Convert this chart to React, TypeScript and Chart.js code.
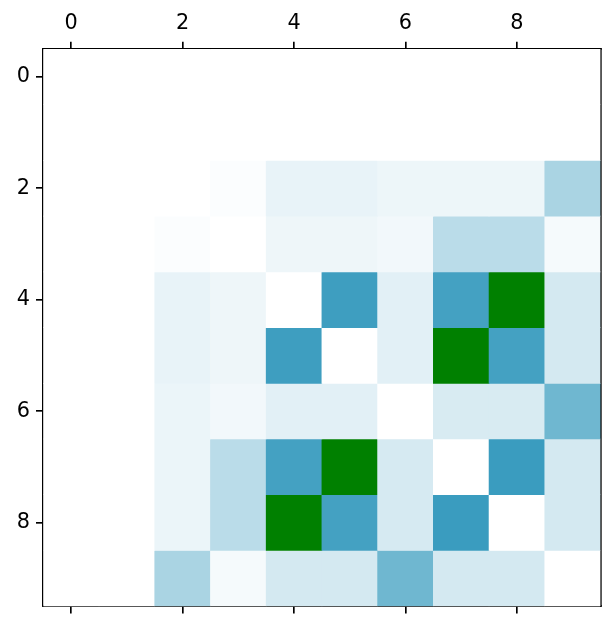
import { useEffect, useRef } from 'react';
import { Chart, registerables } from 'chart.js';

Chart.register(...registerables);

// Row / column indices of the matrix
const rowIndex = [0, 1, 2, 3, 4, 5, 6, 7, 8, 9];
const colIndex = [0, 1, 2, 3, 4, 5, 6, 7, 8, 9];

// Intensity of each cell (0 = white, larger = deeper blue)
const row0 = [0, 0, 0, 0, 0, 0, 0, 0, 0, 0];
const row1 = [0, 0, 0, 0, 0, 0, 0, 0, 0, 0];
const row2 = [0, 0, 0, 0.016, 0.09, 0.09, 0.071, 0.071, 0.071, 0.333];
const row3 = [0, 0, 0.016, 0, 0.067, 0.067, 0.051, 0.27, 0.27, 0.039];
const row4 = [0, 0, 0.09, 0.067, 0, 0.757, 0.114, 0.733, 1, 0.169];
const row5 = [0, 0, 0.09, 0.067, 0.757, 0, 0.114, 1, 0.733, 0.169];
const row6 = [0, 0, 0.078, 0.051, 0.114, 0.114, 0, 0.153, 0.153, 0.565];
const row7 = [0, 0, 0.078, 0.27, 0.733, 1, 0.161, 0, 0.773, 0.169];
const row8 = [0, 0, 0.078, 0.27, 1, 0.733, 0.161, 0.773, 0, 0.169];
const row9 = [0, 0, 0.333, 0.039, 0.169, 0.169, 0.565, 0.169, 0.169, 0];
const values = [row0, row1, row2, row3, row4, row5, row6, row7, row8, row9];

// Cells highlighted in green [row, col]
const highlightCells = [
  [4, 8],
  [5, 7],
  [7, 5],
  [8, 4],
];

// Tick labels
const xTickValues = [0, 2, 4, 6, 8];
const yTickValues = [0, 2, 4, 6, 8];

function isHighlighted(r: number, c: number) {
  return highlightCells.some(([hr, hc]) => hr === r && hc === c);
}

function cellColor(v: number, hl: boolean) {
  if (hl) return '#008000';
  const r = Math.round(255 - 255 * v);
  const g = Math.round(255 - 128 * v);
  const b = Math.round(255 - 83 * v);
  return `rgb(${r},${g},${b})`;
}

const FONT = { family: 'DejaVu Sans', size: 20.8 };
const LINE = 1.67;

export default function App() {
  const ref = useRef<HTMLCanvasElement>(null);

  useEffect(() => {
    if (!ref.current) return;
    const datasets = rowIndex.map((r) => ({
      data: colIndex.map((c) => ({ x: c, y: [r - 0.5, r + 0.5] })),
      backgroundColor: colIndex.map((c) => cellColor(values[r][c], isHighlighted(r, c))),
      borderWidth: 0,
      barPercentage: 1,
      categoryPercentage: 1,
      grouped: false,
    }));

    const tickGrid = {
      display: true,
      drawOnChartArea: false,
      drawTicks: true,
      tickLength: 7.3,
      color: '#000',
      tickColor: '#000',
      lineWidth: LINE,
      tickWidth: LINE,
      offset: false,
    };
    const border = { display: true, color: '#000', width: LINE };

    const chart = new Chart(ref.current, {
      type: 'bar',
      data: { datasets: datasets as any },
      options: {
        animation: false,
        responsive: false,
        maintainAspectRatio: false,
        devicePixelRatio: 1,
        layout: { padding: 0 },
        plugins: { legend: { display: false }, tooltip: { enabled: false } },
        scales: {
          x: {
            type: 'linear',
            position: 'top',
            min: -0.5,
            max: 9.5,
            offset: false,
            z: 1,
            afterBuildTicks: (s: any) => {
              s.ticks = xTickValues.map((v) => ({ value: v }));
            },
            afterFit: (s: any) => {
              s.height = 49;
            },
            grid: tickGrid,
            border,
            ticks: { color: '#000', font: FONT, padding: 6, maxRotation: 0, autoSkip: false },
          },
          x2: {
            type: 'linear',
            position: 'bottom',
            min: -0.5,
            max: 9.5,
            offset: false,
            z: 1,
            afterBuildTicks: (s: any) => {
              s.ticks = xTickValues.map((v) => ({ value: v }));
            },
            afterFit: (s: any) => {
              s.height = 22.8;
            },
            grid: tickGrid,
            border,
            ticks: { display: false },
          },
          y: {
            type: 'linear',
            position: 'left',
            reverse: true,
            min: -0.5,
            max: 9.5,
            z: 1,
            afterBuildTicks: (s: any) => {
              s.ticks = yTickValues.map((v) => ({ value: v }));
            },
            afterFit: (s: any) => {
              s.width = 43.3;
            },
            grid: tickGrid,
            border,
            ticks: { color: '#000', font: FONT, padding: 6, autoSkip: false },
          },
          y2: {
            type: 'linear',
            position: 'right',
            reverse: true,
            min: -0.5,
            max: 9.5,
            z: 1,
            afterFit: (s: any) => {
              s.width = 14.5;
            },
            grid: { display: false },
            border,
            ticks: { display: false },
          },
        } as any,
      },
    });
    return () => chart.destroy();
  }, []);

  return (
    <div style={{ position: 'fixed', left: 0, top: 0, width: 615, height: 629, background: '#fff' }}>
      <canvas ref={ref} width={615} height={629} style={{ display: 'block' }} />
    </div>
  );
}
